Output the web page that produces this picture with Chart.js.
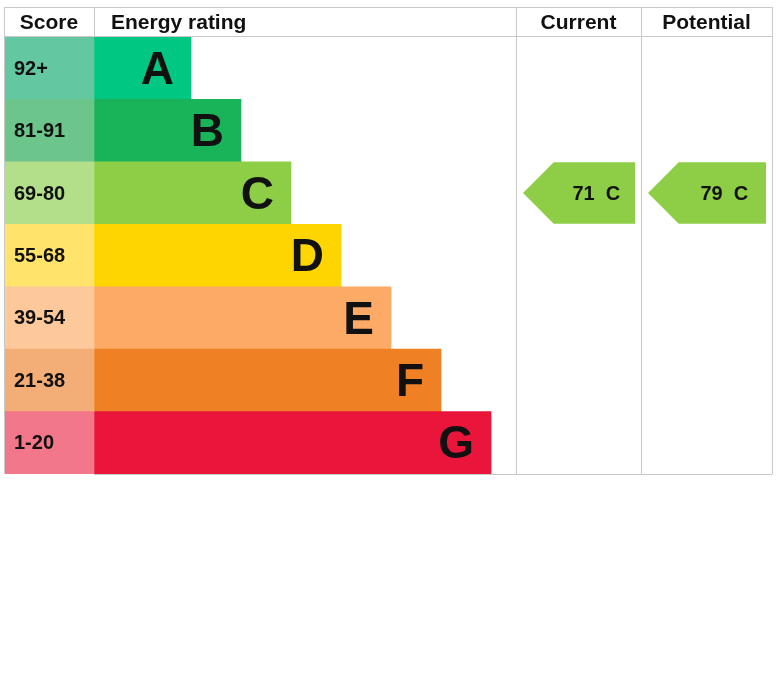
<!DOCTYPE html>
<html>
<head>
<meta charset="utf-8">
<script src="https://cdn.jsdelivr.net/npm/chart.js@4"></script>
<style>
  html, body { margin: 0; padding: 0; background: #fff; }
  #wrap { width: 779px; height: 686px; }
</style>
</head>
<body>
<div id="wrap"><canvas id="epc"></canvas></div>
<script>
const bands = ['A', 'B', 'C', 'D', 'E', 'F', 'G'];
const scoreLabels = ['92+', '81-91', '69-80', '55-68', '39-54', '21-38', '1-20'];
const bandMin = [92, 81, 69, 55, 39, 21, 1];
const barEnds = [187, 237, 287, 337, 387, 437, 487];
const bandColors = ['#00c781', '#19b459', '#8dce46', '#ffd500', '#fcaa65', '#ef8023', '#e9153b'];
const scoreColors = ['#63c8a2', '#6cc58a', '#b3df8a', '#ffe36a', '#fdc89a', '#f3ad76', '#f2778a'];
const currentScore = 71;
const potentialScore = 79;

// column edges in x-scale units
const COL_SCORE = 90, COL_CURRENT = 512, COL_POTENTIAL = 637, COL_END = 768;

function bandFor(score) {
  const i = bandMin.findIndex(m => score >= m);
  return i < 0 ? bands.length - 1 : i;
}

const epcPlugin = {
  id: 'epc',
  afterDatasetsDraw(chart) {
    const { ctx, chartArea: a, scales: { x, y } } = chart;
    const rowH = (a.bottom - a.top) / bands.length;
    ctx.save();
    // grid lines
    ctx.strokeStyle = '#c8c8c8';
    ctx.lineWidth = 1;
    const top = a.top - 30;
    ctx.beginPath();
    ctx.moveTo(a.left, top + 0.5); ctx.lineTo(x.getPixelForValue(COL_END), top + 0.5);
    ctx.moveTo(a.left, a.top - 0.5); ctx.lineTo(x.getPixelForValue(COL_END), a.top - 0.5);
    ctx.moveTo(x.getPixelForValue(COL_SCORE), a.bottom + 0.5); ctx.lineTo(x.getPixelForValue(COL_END), a.bottom + 0.5);
    [0, COL_SCORE, COL_CURRENT, COL_POTENTIAL, COL_END].forEach(v => {
      const px = Math.round(x.getPixelForValue(v)) + 0.5;
      ctx.moveTo(px, top); ctx.lineTo(px, (v === COL_SCORE) ? a.top : a.bottom);
    });
    ctx.stroke();

    // header
    ctx.fillStyle = '#111';
    ctx.font = 'bold 21px "Liberation Sans", Arial, sans-serif';
    ctx.textBaseline = 'middle';
    const hy = (top + a.top) / 2 + 1;
    ctx.textAlign = 'center';
    ctx.fillText('Score', x.getPixelForValue(COL_SCORE / 2), hy);
    ctx.textAlign = 'left';
    ctx.fillText('Energy rating', x.getPixelForValue(COL_SCORE) + 17, hy);
    ctx.textAlign = 'center';
    ctx.fillText('Current', x.getPixelForValue((COL_CURRENT + COL_POTENTIAL) / 2), hy);
    ctx.fillText('Potential', x.getPixelForValue((COL_POTENTIAL + COL_END) / 2), hy);

    // row labels
    bands.forEach((b, i) => {
      const cy = y.getPixelForValue(i);
      ctx.fillStyle = '#111';
      ctx.textAlign = 'left';
      ctx.font = 'bold 20px "Liberation Sans", Arial, sans-serif';
      ctx.fillText(scoreLabels[i], a.left + 10, cy + 1);
      ctx.textAlign = 'right';
      ctx.font = 'bold 46px "Liberation Sans", Arial, sans-serif';
      ctx.fillText(b, x.getPixelForValue(barEnds[i]) - 17, cy + 3);
    });

    // arrows
    const drawArrow = (score, c0, c1) => {
      const i = bandFor(score);
      const cy = y.getPixelForValue(i);
      const h = rowH - 1;
      const x0 = x.getPixelForValue(c0) + 7, x1 = x.getPixelForValue(c1) - 6;
      const notch = h / 2;
      ctx.fillStyle = bandColors[i];
      ctx.beginPath();
      ctx.moveTo(x0, cy);
      ctx.lineTo(x0 + notch, cy - h / 2);
      ctx.lineTo(x1, cy - h / 2);
      ctx.lineTo(x1, cy + h / 2);
      ctx.lineTo(x0 + notch, cy + h / 2);
      ctx.closePath();
      ctx.fill();
      ctx.fillStyle = '#111';
      ctx.textAlign = 'center';
      ctx.font = 'bold 20px "Liberation Sans", Arial, sans-serif';
      ctx.fillText(score + '  ' + bands[i], (x0 + notch + x1) / 2 + 2, cy + 1);
    };
    drawArrow(currentScore, COL_CURRENT, COL_POTENTIAL);
    drawArrow(potentialScore, COL_POTENTIAL, COL_END);
    ctx.restore();
  }
};

new Chart(document.getElementById('epc'), {
  type: 'bar',
  data: {
    labels: bands,
    datasets: [
      {
        data: bands.map(() => [0, COL_SCORE]),
        backgroundColor: scoreColors,
        grouped: false,
        barPercentage: 1,
        categoryPercentage: 1
      },
      {
        data: barEnds.map(e => [COL_SCORE, e]),
        backgroundColor: bandColors,
        grouped: false,
        barPercentage: 1,
        categoryPercentage: 1
      }
    ]
  },
  options: {
    indexAxis: 'y',
    responsive: true,
    maintainAspectRatio: false,
    animation: false,
    layout: { padding: { left: 4, right: 7, top: 37, bottom: 212 } },
    scales: {
      x: { type: 'linear', min: 0, max: COL_END, display: false },
      y: { display: false, offset: true }
    },
    plugins: { legend: { display: false }, tooltip: { enabled: false } }
  },
  plugins: [epcPlugin]
});
</script>
</body>
</html>
